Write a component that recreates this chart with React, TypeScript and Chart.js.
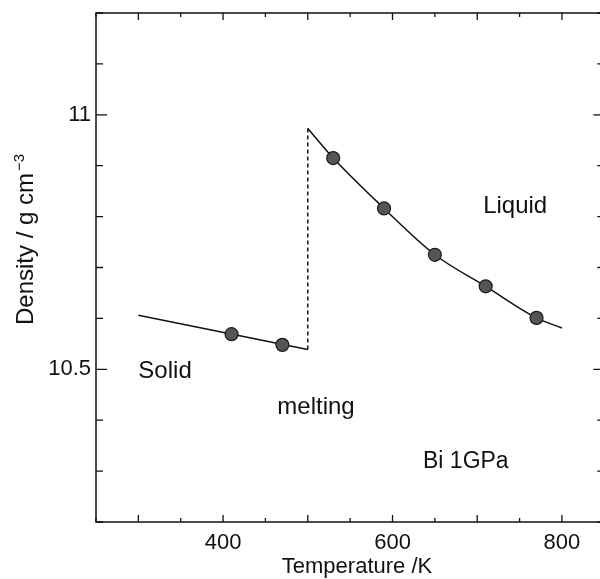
import { useEffect, useRef } from "react";
import { Chart, registerables } from "chart.js";

Chart.register(...registerables);

// Measured points (temperature K, density g/cm3)
const solidPointT = [410, 470];
const solidPointD = [10.569, 10.548];
const liquidPointT = [530, 590, 650, 710, 770];
const liquidPointD = [10.915, 10.816, 10.725, 10.663, 10.601];

// Fitted curves
const solidLineT = [300, 500];
const solidLineD = [10.606, 10.539];
const meltLineT = [500, 500];
const meltLineD = [10.539, 10.973];
const liquidLineT = [500, 530, 590, 650, 710, 770, 800];
const liquidLineD = [10.973, 10.915, 10.816, 10.725, 10.663, 10.601, 10.581];

// Axes
const xMin = 250;
const xMax = 850;
const yMin = 10.2;
const yMax = 11.2;
const xLabelTicks = [400, 600, 800];
const yLabelTicks = [10.5, 11];

// Annotations
const noteTexts = ["Solid", "melting", "Liquid", "Bi 1GPa"];
const noteT = [300, 464, 707, 636];
const noteD = [10.483, 10.412, 10.807, 10.306];

const FONT = "'Liberation Sans', Arial, Helvetica, sans-serif";

const zip = (xs: number[], ys: number[]) => xs.map((x, i) => ({ x, y: ys[i] }));

const near = (v: number, list: number[]) => list.some((l) => Math.abs(v - l) < 1e-6);

const framePlugin = {
  id: "frame",
  afterDraw(chart: any) {
    const { ctx, chartArea, scales } = chart;
    const { left, right, top, bottom } = chartArea;
    const xs = scales.x;
    const ys = scales.y;
    ctx.save();
    ctx.strokeStyle = "#111";
    ctx.lineWidth = 1.5;
    ctx.strokeRect(left, top, right - left, bottom - top);
    ctx.lineWidth = 1.3;
    // x ticks
    for (let v = xMin; v <= xMax + 1e-6; v += 50) {
      const px = xs.getPixelForValue(v);
      const len = Math.round(v) % 100 === 0 ? 7 : 4;
      ctx.beginPath();
      ctx.moveTo(px, bottom);
      ctx.lineTo(px, bottom - len);
      ctx.moveTo(px, top);
      ctx.lineTo(px, top + len);
      ctx.stroke();
    }
    // y ticks
    for (let i = 0; i <= Math.round((yMax - yMin) / 0.1); i++) {
      const v = yMin + i * 0.1;
      const py = ys.getPixelForValue(v);
      const len = near(v, yLabelTicks) ? 11 : 7;
      ctx.beginPath();
      ctx.moveTo(left, py);
      ctx.lineTo(left + len, py);
      ctx.moveTo(right, py);
      ctx.lineTo(right - len, py);
      ctx.stroke();
    }
    // annotations
    ctx.fillStyle = "#111";
    ctx.textAlign = "left";
    ctx.textBaseline = "alphabetic";
    noteTexts.forEach((t, i) => {
      ctx.font = `${i === 3 ? 23 : 24}px ${FONT}`;
      ctx.fillText(t, xs.getPixelForValue(noteT[i]), ys.getPixelForValue(noteD[i]));
    });
    // x-axis title
    ctx.font = `22px ${FONT}`;
    ctx.textAlign = "center";
    ctx.fillText("Temperature /K", 357, 573);
    // y-axis title with superscript
    ctx.textAlign = "left";
    ctx.translate(33, 325);
    ctx.rotate(-Math.PI / 2);
    ctx.font = `24px ${FONT}`;
    const main = "Density / g cm";
    ctx.fillText(main, 0, 0);
    const w = ctx.measureText(main).width;
    ctx.font = `15px ${FONT}`;
    ctx.fillText("\u22123", w + 2, -9);
    ctx.restore();
  },
};

export default function App() {
  const ref = useRef<HTMLCanvasElement | null>(null);

  useEffect(() => {
    if (!ref.current) return;
    const chart = new Chart(ref.current, {
      type: "scatter",
      data: {
        datasets: [
          {
            label: "solid points",
            data: zip(solidPointT, solidPointD),
            pointRadius: 6.5,
            pointBackgroundColor: "#555",
            pointBorderColor: "#1a1a1a",
            pointBorderWidth: 1.2,
            showLine: false,
            order: 0,
          },
          {
            label: "liquid points",
            data: zip(liquidPointT, liquidPointD),
            pointRadius: 6.5,
            pointBackgroundColor: "#555",
            pointBorderColor: "#1a1a1a",
            pointBorderWidth: 1.2,
            showLine: false,
            order: 0,
          },
          {
            label: "solid fit",
            data: zip(solidLineT, solidLineD),
            showLine: true,
            pointRadius: 0,
            borderColor: "#111",
            borderWidth: 1.5,
            order: 1,
          },
          {
            label: "melting",
            data: zip(meltLineT, meltLineD),
            showLine: true,
            pointRadius: 0,
            borderColor: "#111",
            borderWidth: 1.5,
            borderDash: [4, 3],
            order: 1,
          },
          {
            label: "liquid fit",
            data: zip(liquidLineT, liquidLineD),
            showLine: true,
            pointRadius: 0,
            borderColor: "#111",
            borderWidth: 1.5,
            cubicInterpolationMode: "monotone",
            order: 1,
          },
        ],
      },
      options: {
        animation: false,
        responsive: false,
        devicePixelRatio: 1,
        layout: { padding: { top: 13, right: 3, left: 0, bottom: 0 } },
        plugins: {
          legend: { display: false },
          tooltip: { enabled: false },
        },
        scales: {
          x: {
            type: "linear",
            min: xMin,
            max: xMax,
            grid: { display: false, drawTicks: false },
            border: { display: false },
            ticks: {
              stepSize: 50,
              autoSkip: false,
              maxRotation: 0,
              padding: 8,
              color: "#111",
              font: { family: FONT, size: 22 },
              callback: (v: any) => (near(Number(v), xLabelTicks) ? String(v) : ""),
            },
            afterFit: (s: any) => {
              s.height = 57;
              s.paddingLeft = 0;
              s.paddingRight = 0;
            },
          } as any,
          y: {
            type: "linear",
            min: yMin,
            max: yMax,
            grid: { display: false, drawTicks: false },
            border: { display: false },
            ticks: {
              stepSize: 0.1,
              autoSkip: false,
              padding: 5,
              color: "#111",
              font: { family: FONT, size: 22 },
              callback: (v: any) => {
                const n = Number(v);
                if (Math.abs(n - 10.5) < 1e-6) return "10.5";
                if (Math.abs(n - 11) < 1e-6) return "11";
                return "";
              },
            },
            afterFit: (s: any) => {
              s.width = 96;
              s.paddingTop = 0;
              s.paddingBottom = 0;
            },
          } as any,
        },
      },
      plugins: [framePlugin],
    });
    return () => chart.destroy();
  }, []);

  return (
    <div
      style={{
        position: "absolute",
        left: 0,
        top: 0,
        width: 600,
        height: 579,
        overflow: "hidden",
        background: "#fff",
      }}
    >
      <canvas ref={ref} width={612} height={579} style={{ display: "block" }} />
    </div>
  );
}
